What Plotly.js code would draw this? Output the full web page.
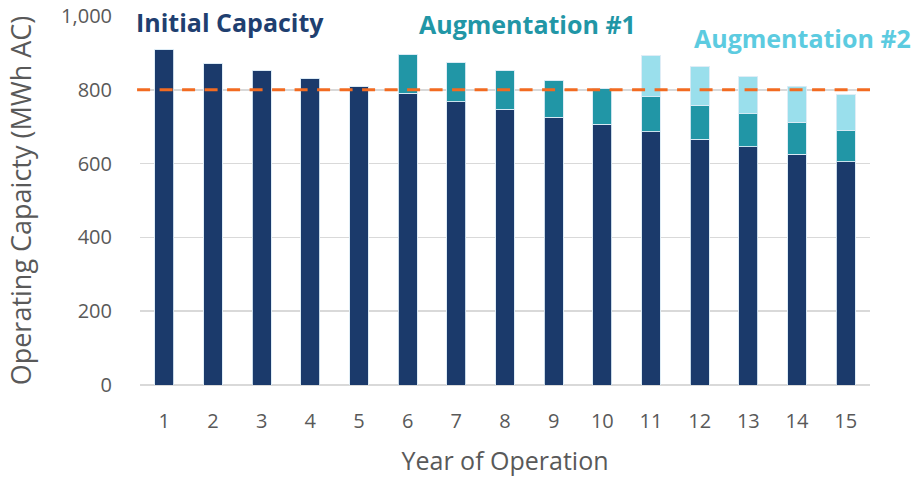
<!DOCTYPE html>
<html>
<head>
<meta charset="utf-8">
<script src="https://cdn.plot.ly/plotly-3.0.1.min.js"></script>
<style>html,body{margin:0;padding:0;background:#fff;}#chart{width:919px;height:481px;}</style>
</head>
<body>
<div id="chart"></div>
<script>
const years = ['1','2','3','4','5','6','7','8','9','10','11','12','13','14','15'];
const initialCapacity = [910, 871, 851, 830, 810, 790, 767, 747, 726, 706, 686, 666, 646, 625, 605];
const augmentation1 = [0, 0, 0, 0, 0, 106, 107, 104, 100, 98, 95, 92, 89, 87, 84];
const augmentation2 = [0, 0, 0, 0, 0, 0, 0, 0, 0, 0, 111, 104, 101, 98, 98];
const targetCapacity = 800;
const yTicks = [0, 200, 400, 600, 800, 1000];
const yTickLabels = ['0', '200', '400', '600', '800', '1,000'];

const barLine = {color: 'rgba(220,235,245,0.9)', width: 1};
const traces = [
  {type: 'bar', x: years, y: initialCapacity, name: 'Initial Capacity',
   marker: {color: '#1B3A6B', line: barLine}},
  {type: 'bar', x: years, y: augmentation1, name: 'Augmentation #1',
   marker: {color: '#2196A6', line: barLine}},
  {type: 'bar', x: years, y: augmentation2, name: 'Augmentation #2',
   marker: {color: '#9ADFEC', line: barLine}}
];

const layout = {
  width: 919, height: 481,
  margin: {l: 140, r: 49, t: 16, b: 96},
  barmode: 'stack',
  bargap: 0.61,
  showlegend: false,
  paper_bgcolor: '#ffffff',
  plot_bgcolor: '#ffffff',
  font: {family: 'Open Sans, sans-serif', color: '#595959'},
  xaxis: {
    type: 'category',
    tickfont: {size: 20, color: '#595959', family: 'Open Sans, sans-serif'},
    ticks: '', showline: false, showgrid: false, zeroline: false,
    ticklabelstandoff: 22,
    title: {text: 'Year of Operation', font: {size: 25, color: '#595959'}, standoff: 19}
  },
  yaxis: {
    range: [0, 1000],
    tickvals: yTicks, ticktext: yTickLabels,
    tickfont: {size: 20, color: '#595959', family: 'Open Sans, sans-serif'},
    showgrid: true, gridcolor: '#d9d9d9', gridwidth: 1.5,
    zeroline: true, zerolinecolor: '#d9d9d9', zerolinewidth: 1.5,
    showline: false, ticks: '',
    ticklabelstandoff: 27,
    title: {text: 'Operating Capaicty (MWh AC)', font: {size: 27, color: '#595959'}, standoff: 21}
  },
  shapes: [
    {type: 'line', xref: 'paper', x0: -0.004, x1: 1, yref: 'y', y0: targetCapacity, y1: targetCapacity,
     line: {color: '#F26B21', width: 3, dash: '13px,9.5px'}}
  ],
  annotations: [
    {text: '<b>Initial Capacity</b>', xref: 'paper', yref: 'paper', x: -0.008, y: 0.984, xanchor: 'left', yanchor: 'middle',
     showarrow: false, font: {size: 25, color: '#1F3F70', family: 'Open Sans, sans-serif'}},
    {text: '<b>Augmentation #1</b>', xref: 'paper', yref: 'paper', x: 0.379, y: 0.978, xanchor: 'left', yanchor: 'middle',
     showarrow: false, font: {size: 25, color: '#2196A6', family: 'Open Sans, sans-serif'}},
    {text: '<b>Augmentation #2</b>', xref: 'paper', yref: 'paper', x: 0.756, y: 0.940, xanchor: 'left', yanchor: 'middle',
     showarrow: false, font: {size: 25, color: '#5CCBE0', family: 'Open Sans, sans-serif'}}
  ]
};

Plotly.newPlot('chart', traces, layout, {displayModeBar: false, staticPlot: true});
</script>
</body>
</html>
